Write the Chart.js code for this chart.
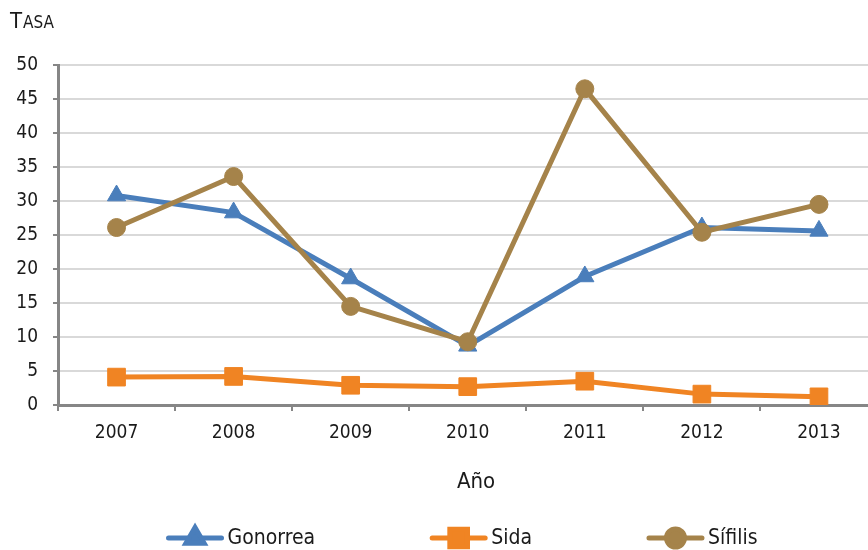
<!DOCTYPE html>
<html>
<head>
<meta charset="utf-8">
<script src="https://cdn.jsdelivr.net/npm/chart.js@4.4.0/dist/chart.umd.min.js"></script>
<style>
html, body { margin: 0; padding: 0; background: #fff; overflow: hidden; }
</style>
</head>
<body>
<canvas id="tasa_chart" width="891" height="550"></canvas>
<script>
// Años del eje x
var years = ["2007", "2008", "2009", "2010", "2011", "2012", "2013"];

// Tasas por enfermedad
var gonorrea = [30.8, 28.3, 18.6, 8.7, 18.9, 26.1, 25.6];
var sida = [4.1, 4.2, 2.9, 2.7, 3.5, 1.6, 1.2];
var sifilis = [26.1, 33.6, 14.5, 9.3, 46.5, 25.4, 29.5];

// Eje y
var yMin = 0, yMax = 50, yStep = 5;

var numFont = "'DejaVu Sans Condensed', sans-serif";
var textFont = "'DejaVu Sans Condensed', sans-serif";
var ink = "#1a1a1a";
var axisGray = "#868686";

// titulo "Tasa", "Año" y leyenda abajo
var extras = {
    id: 'extras',
    afterDraw: function (chart) {
        var ctx = chart.ctx;
        ctx.save();
        ctx.fillStyle = ink;
        ctx.textBaseline = 'alphabetic';
        ctx.textAlign = 'left';
        // versalitas a mano
        ctx.font = '22px ' + textFont;
        ctx.fillText('T', 10, 28);
        var tw = ctx.measureText('T').width;
        ctx.font = '17px ' + textFont;
        ctx.fillText('ASA', 10 + tw + 1, 28);

        ctx.textAlign = 'center';
        ctx.font = '22px ' + textFont;
        ctx.fillText('Año', 476, 488);

        // leyenda
        var lineLen = 57, textGap = 4, itemGap = 115, legendY = 538;
        ctx.font = '21px ' + textFont;
        var sets = chart.data.datasets;
        var widths = sets.map(function (ds) {
            return lineLen + textGap + ctx.measureText(ds.label).width;
        });
        var total = widths.reduce(function (a, b) { return a + b; }, 0) + itemGap * (sets.length - 1);
        var x = 462 - total / 2;
        sets.forEach(function (ds, i) {
            ctx.strokeStyle = ds.borderColor;
            ctx.lineWidth = 5;
            ctx.lineCap = 'round';
            ctx.beginPath();
            ctx.moveTo(x + 2, legendY);
            ctx.lineTo(x + lineLen - 2, legendY);
            ctx.stroke();
            ctx.fillStyle = ds.backgroundColor;
            ctx.strokeStyle = ds.borderColor;
            Chart.helpers.drawPoint(ctx, {
                pointStyle: ds.pointStyle,
                radius: ds.pointRadius,
                borderWidth: 1,
                rotation: 0
            }, x + lineLen / 2, legendY);
            ctx.fillStyle = ink;
            ctx.textAlign = 'left';
            ctx.textBaseline = 'middle';
            ctx.fillText(ds.label, x + lineLen + textGap, legendY + 1);
            x += widths[i] + itemGap;
        });
        ctx.restore();
    }
};

var ctx = document.getElementById("tasa_chart");
var myChart = new Chart(ctx, {
    type: 'line',
    data: {
        labels: years,
        datasets: [
            {
                label: "Gonorrea",
                data: gonorrea,
                borderColor: "#4a7ebb",
                backgroundColor: "#4a7ebb",
                borderWidth: 5,
                pointStyle: 'triangle',
                pointRadius: 10.5,
                pointBorderWidth: 1,
                order: 3,
                fill: false
            },
            {
                label: "Sida",
                data: sida,
                borderColor: "#f08423",
                backgroundColor: "#f08423",
                borderWidth: 5,
                pointStyle: 'rect',
                pointRadius: 12.5,
                pointBorderWidth: 1,
                order: 2,
                fill: false
            },
            {
                label: "Sífilis",
                data: sifilis,
                borderColor: "#a5834a",
                backgroundColor: "#a5834a",
                borderWidth: 5,
                pointStyle: 'circle',
                pointRadius: 9,
                pointBorderWidth: 1,
                order: 1,
                fill: false
            }
        ]
    },
    options: {
        responsive: false,
        animation: false,
        layout: { padding: { top: 65, right: 3, bottom: 100, left: 0 } },
        plugins: {
            legend: { display: false },
            tooltip: { enabled: false }
        },
        scales: {
            x: {
                offset: true,
                grid: {
                    display: true,
                    drawOnChartArea: false,
                    offset: true,
                    tickLength: 6,
                    tickColor: axisGray,
                    lineWidth: 2
                },
                border: { color: axisGray, width: 3 },
                ticks: {
                    color: ink,
                    font: { family: numFont, size: 19 },
                    padding: 11,
                    maxRotation: 0
                },
                afterFit: function (s) { s.height = 45; }
            },
            y: {
                min: yMin,
                max: yMax,
                grid: {
                    color: "#d9d9d9",
                    lineWidth: 2,
                    tickColor: axisGray,
                    tickLength: 5
                },
                border: { color: axisGray, width: 3 },
                ticks: {
                    stepSize: yStep,
                    color: ink,
                    font: { family: numFont, size: 19 },
                    padding: 15
                },
                afterFit: function (s) { s.width = 58; }
            }
        }
    },
    plugins: [extras]
});
</script>
</body>
</html>
